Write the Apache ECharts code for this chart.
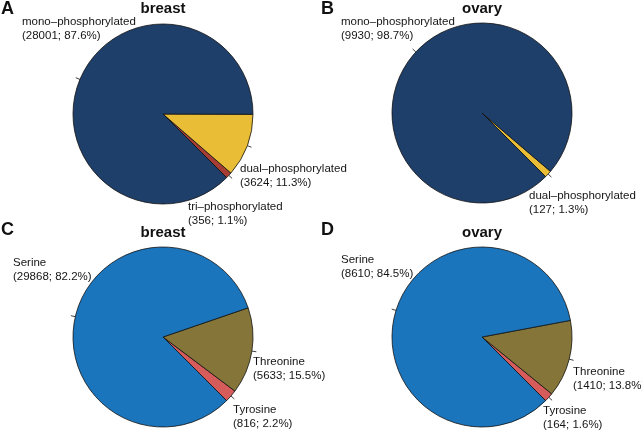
<!DOCTYPE html>
<html>
<head>
<meta charset="utf-8">
<script src="https://cdn.jsdelivr.net/npm/echarts@6/dist/echarts.min.js"></script>
<style>
html,body{margin:0;padding:0;background:#fff;}
#c{width:642px;height:431px;}
</style>
</head>
<body>
<div id="c"></div>
<script>
// ---- data ----
const breastPhosCats = ['tri–phosphorylated', 'dual–phosphorylated', 'mono–phosphorylated'];
const breastPhosVals = [356, 3624, 28001];
const ovaryPhosCats = ['dual–phosphorylated', 'mono–phosphorylated'];
const ovaryPhosVals = [127, 9930];
const residueCats = ['Tyrosine', 'Threonine', 'Serine'];
const breastResVals = [816, 5633, 29868];
const ovaryResVals = [164, 1410, 8610];
const panelTitles = ['breast', 'ovary', 'breast', 'ovary'];
const panelLetters = ['A', 'B', 'C', 'D'];

// ---- styles / layout ----
const phosColors = {
  'tri–phosphorylated': '#a53d35',
  'dual–phosphorylated': '#e9be36',
  'mono–phosphorylated': '#1f3f6b'
};
const resColors = { 'Tyrosine': '#d65b5b', 'Threonine': '#857538', 'Serine': '#1b75bc' };
const centers = [[163, 114], [482, 113], [163, 337], [482, 337]];
const R = 90;
// label top-left anchor positions (layout, per panel, per slice)
const labelPos = [
  [[188, 200], [240, 162], [22, 15]],
  [[529, 189], [341, 15]],
  [[233, 403], [253, 355], [13, 256]],
  [[543, 404], [573, 365], [341, 253]]
];

function mkSeries(idx, cats, vals, colors) {
  const total = vals.reduce((a, b) => a + b, 0);
  const c = centers[idx];
  return {
    type: 'pie',
    center: c,
    radius: [0, R],
    startAngle: -45,
    clockwise: false,
    avoidLabelOverlap: false,
    silent: true,
    animation: false,
    itemStyle: { borderColor: '#111', borderWidth: 0.8 },
    label: {
      show: true,
      position: 'outside',
      color: '#151515',
      fontFamily: 'Liberation Sans, Arial, sans-serif',
      fontSize: 11.5,
      lineHeight: 14,
      formatter: p => p.name + '\n(' + p.value + '; ' + (p.value / total * 100).toFixed(1) + '%)'
    },
    labelLine: { show: true, length: 5, length2: 0, lineStyle: { color: '#111', width: 0.8 } },
    labelLayout: function (params) {
      const pos = labelPos[idx][params.dataIndex];
      const out = { x: pos[0], y: pos[1], align: 'left', verticalAlign: 'top' };
      const pts = params.labelLinePoints;
      if (pts && pts.length) {
        const p0 = pts[0];
        const dx = p0[0] - c[0], dy = p0[1] - c[1];
        const len = Math.sqrt(dx * dx + dy * dy) || 1;
        const p1 = [p0[0] + dx / len * 4.5, p0[1] + dy / len * 4.5];
        out.labelLinePoints = [p0, p1, p1];
      }
      return out;
    },
    data: cats.map((n, i) => ({ name: n, value: vals[i], itemStyle: { color: colors[n] } }))
  };
}

const titles = [];
panelTitles.forEach((t, i) => {
  titles.push({
    text: t,
    left: centers[i][0],
    top: i < 2 ? 1 : 225,
    textAlign: 'center',
    textStyle: { fontFamily: 'Liberation Sans, Arial, sans-serif', fontSize: 15, fontWeight: 'bold', color: '#111' },
    padding: 0
  });
});
panelLetters.forEach((t, i) => {
  titles.push({
    text: t,
    left: i % 2 === 0 ? 1 : 321,
    top: i < 2 ? 0 : 221,
    textStyle: { fontFamily: 'Liberation Sans, Arial, sans-serif', fontSize: 18, fontWeight: 'bold', color: '#111' },
    padding: 0
  });
});

const chart = echarts.init(document.getElementById('c'), null, { renderer: 'canvas' });
chart.setOption({
  backgroundColor: '#ffffff',
  animation: false,
  title: titles,
  series: [
    mkSeries(0, breastPhosCats, breastPhosVals, phosColors),
    mkSeries(1, ovaryPhosCats, ovaryPhosVals, phosColors),
    mkSeries(2, residueCats, breastResVals, resColors),
    mkSeries(3, residueCats, ovaryResVals, resColors)
  ]
});
</script>
</body>
</html>
